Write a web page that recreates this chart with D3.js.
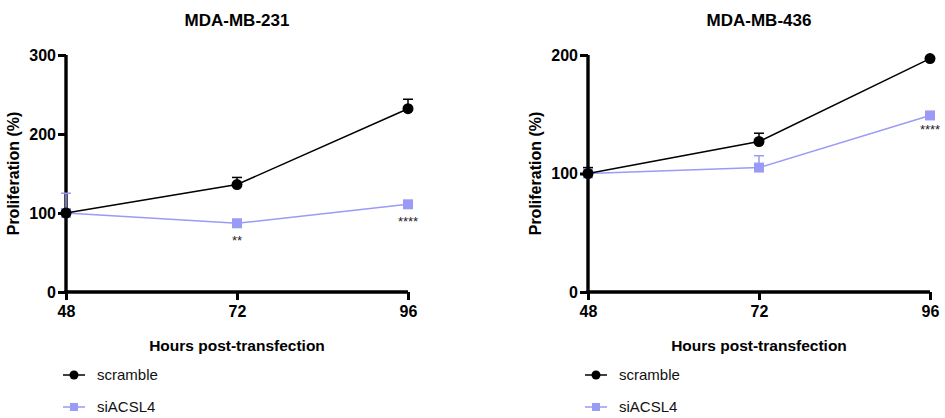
<!DOCTYPE html>
<html>
<head>
<meta charset="utf-8">
<script src="https://cdn.jsdelivr.net/npm/d3@7"></script>
<style>
  body { margin: 0; background: #fff; }
  svg { display: block; font-family: "Liberation Sans", Arial, sans-serif; }
</style>
</head>
<body>
<svg id="chart" width="945" height="418"></svg>
<script>
// ── Data ──────────────────────────────────────────────
const hours = [48, 72, 96];
const seriesNames = ['scramble', 'siACSL4'];

// MDA-MB-231
const mb231Scramble    = [100, 136, 232];
const mb231ScrambleErr = [0, 9, 12];
const mb231Si          = [100, 87, 111];
const mb231SiErr       = [25, 0, 0];
const mb231Stars       = ['', '**', '****'];
const mb231Ticks       = [0, 100, 200, 300];

// MDA-MB-436
const mb436Scramble    = [100, 127, 197];
const mb436ScrambleErr = [5, 7, 0];
const mb436Si          = [100, 105, 149];
const mb436SiErr       = [0, 10, 0];
const mb436Stars       = ['', '', '****'];
const mb436Ticks       = [0, 100, 200];

const BLACK = '#000000';
const SI_COLOR = '#9a9af7';

const svg = d3.select('#chart');

function drawPanel(opts) {
  const { title, x0, x1, yTop, yBot, yMax, ticks, scr, scrErr, si, siErr, stars, starDy } = opts;
  const x = d3.scaleLinear().domain([48, 96]).range([x0, x1]);
  const y = d3.scaleLinear().domain([0, yMax]).range([yBot, yTop]);
  const g = svg.append('g');

  // title
  g.append('text')
    .attr('x', (x0 + x1) / 2).attr('y', 26)
    .attr('text-anchor', 'middle')
    .attr('font-size', 17).attr('font-weight', 'bold')
    .text(title);

  // axes
  const yAxis = g.append('g').attr('transform', `translate(${x0},0)`)
    .call(d3.axisLeft(y).tickValues(ticks).tickSize(8).tickPadding(2).tickSizeOuter(0));
  const xAxis = g.append('g').attr('transform', `translate(0,${yBot})`)
    .call(d3.axisBottom(x).tickValues(hours).tickSize(8).tickPadding(6).tickSizeOuter(0));
  [yAxis, xAxis].forEach(a => {
    a.select('.domain').attr('stroke', BLACK).attr('stroke-width', 3.4);
    a.selectAll('.tick line').attr('stroke', BLACK).attr('stroke-width', 3);
    a.selectAll('.tick text').attr('fill', BLACK)
      .attr('font-size', 16).attr('font-weight', 'bold')
      .attr('font-family', '"Liberation Sans", Arial, sans-serif');
  });
  // extend domain lines to meet at corner
  yAxis.select('.domain').attr('d', `M0,${y(yMax)}V${yBot + 1.7}`);
  xAxis.select('.domain').attr('d', `M${x0 - 1.7},0H${x1}`);

  // axis titles
  g.append('text')
    .attr('transform', `translate(${x0 - 47},${(yTop + yBot) / 2}) rotate(-90)`)
    .attr('text-anchor', 'middle')
    .attr('font-size', 16).attr('font-weight', 'bold')
    .text('Proliferation (%)');
  g.append('text')
    .attr('x', (x0 + x1) / 2).attr('y', yBot + 59)
    .attr('text-anchor', 'middle')
    .attr('font-size', 15.5).attr('font-weight', 'bold')
    .text('Hours post-transfection');

  const line = d3.line().x((d, i) => x(hours[i])).y(d => y(d));

  // siACSL4 series
  const siG = g.append('g');
  siG.append('path').datum(si).attr('d', line)
    .attr('fill', 'none').attr('stroke', SI_COLOR).attr('stroke-width', 1.5);
  si.forEach((v, i) => {
    if (siErr[i] > 0) {
      siG.append('line').attr('x1', x(hours[i])).attr('x2', x(hours[i]))
        .attr('y1', y(v)).attr('y2', y(v + siErr[i]))
        .attr('stroke', SI_COLOR).attr('stroke-width', 1.5);
      siG.append('line').attr('x1', x(hours[i]) - 5).attr('x2', x(hours[i]) + 5)
        .attr('y1', y(v + siErr[i])).attr('y2', y(v + siErr[i]))
        .attr('stroke', SI_COLOR).attr('stroke-width', 1.5);
    }
  });

  // scramble series
  const sG = g.append('g');
  sG.append('path').datum(scr).attr('d', line)
    .attr('fill', 'none').attr('stroke', BLACK).attr('stroke-width', 1.5);
  scr.forEach((v, i) => {
    if (scrErr[i] > 0) {
      sG.append('line').attr('x1', x(hours[i])).attr('x2', x(hours[i]))
        .attr('y1', y(v)).attr('y2', y(v + scrErr[i]))
        .attr('stroke', BLACK).attr('stroke-width', 1.5);
      sG.append('line').attr('x1', x(hours[i]) - 5).attr('x2', x(hours[i]) + 5)
        .attr('y1', y(v + scrErr[i])).attr('y2', y(v + scrErr[i]))
        .attr('stroke', BLACK).attr('stroke-width', 1.5);
    }
  });

  // markers
  si.forEach((v, i) => {
    siG.append('rect')
      .attr('x', x(hours[i]) - 5).attr('y', y(v) - 5)
      .attr('width', 10).attr('height', 10)
      .attr('fill', SI_COLOR);
  });
  scr.forEach((v, i) => {
    sG.append('circle').attr('cx', x(hours[i])).attr('cy', y(v)).attr('r', 5.5).attr('fill', BLACK);
  });

  // significance stars
  si.forEach((v, i) => {
    if (!stars[i]) return;
    g.append('text')
      .attr('x', x(hours[i])).attr('y', y(v) + starDy)
      .attr('text-anchor', 'middle')
      .attr('font-size', 13).attr('fill', '#222')
      .text(stars[i]);
  });

  // legend
  const lg = g.append('g').attr('transform', `translate(${x0 - 3},0)`);
  const legendY = [375, 407];
  seriesNames.forEach((name, i) => {
    const col = i === 0 ? BLACK : SI_COLOR;
    const ly = legendY[i];
    lg.append('line').attr('x1', 0).attr('x2', 22).attr('y1', ly).attr('y2', ly)
      .attr('stroke', col).attr('stroke-width', 1.5);
    if (i === 0) {
      lg.append('circle').attr('cx', 11).attr('cy', ly).attr('r', 4.5).attr('fill', col);
    } else {
      lg.append('rect').attr('x', 7).attr('y', ly - 4).attr('width', 8).attr('height', 8).attr('fill', col);
    }
    lg.append('text').attr('x', 34).attr('y', ly + 5)
      .attr('font-size', 15).attr('fill', '#111')
      .text(name);
  });
}

drawPanel({
  title: 'MDA-MB-231', x0: 66, x1: 408, yTop: 55, yBot: 292, yMax: 300,
  ticks: mb231Ticks, scr: mb231Scramble, scrErr: mb231ScrambleErr,
  si: mb231Si, siErr: mb231SiErr, stars: mb231Stars, starDy: 22
});
drawPanel({
  title: 'MDA-MB-436', x0: 588, x1: 930, yTop: 55, yBot: 292, yMax: 200,
  ticks: mb436Ticks, scr: mb436Scramble, scrErr: mb436ScrambleErr,
  si: mb436Si, siErr: mb436SiErr, stars: mb436Stars, starDy: 19
});
</script>
</body>
</html>
